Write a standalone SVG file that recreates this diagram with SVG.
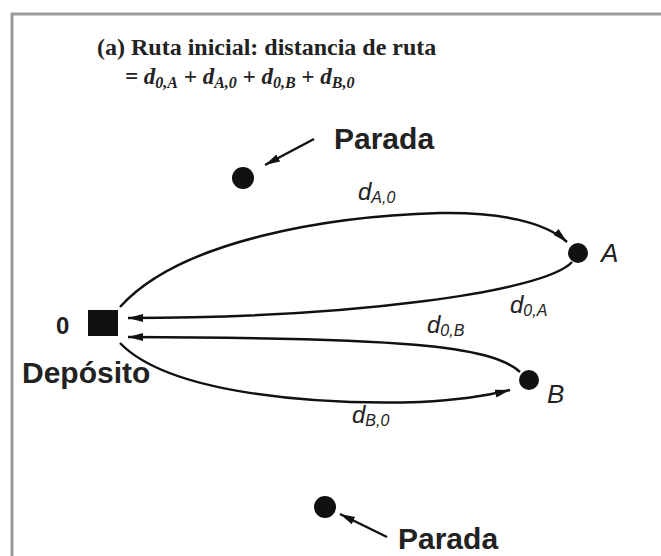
<svg xmlns="http://www.w3.org/2000/svg" width="661" height="556" viewBox="0 0 661 556">
<style>
.title{font-family:"Liberation Serif",serif;font-weight:bold;font-size:24px;fill:#222}
.formula{font-family:"Liberation Serif",serif;font-weight:bold;font-style:italic;font-size:23px;fill:#222}
.lbl{font-family:"Liberation Sans",Arial,sans-serif;font-weight:bold;font-size:30px;fill:#222}
.it{font-family:"Liberation Sans",Arial,sans-serif;font-style:italic;font-size:26px;fill:#222}
.d{font-family:"Liberation Sans",Arial,sans-serif;font-style:italic;font-size:24px;fill:#222}
.sub{font-size:16px}
.edge{fill:none;stroke:#111;stroke-width:2.5}
.dot{fill:#111}
</style>
<defs>
<marker id="arr" markerWidth="16" markerHeight="10" refX="15" refY="5" orient="auto" markerUnits="userSpaceOnUse">
<path d="M0,1 L15,5 L0,9 z" fill="#111"/>
</marker>
</defs>
<rect width="661" height="556" fill="#fff"/>
<path d="M12,556 L12,14 L661,14" fill="none" stroke="#9a9a9a" stroke-width="3"/>

<g id="title">
<text class="title" x="97" y="55">(a) Ruta inicial: distancia de ruta</text>
<text class="formula" x="125" y="84">= d<tspan class="sub" dy="4">0,A</tspan><tspan dy="-4"> + d</tspan><tspan class="sub" dy="4">A,0</tspan><tspan dy="-4"> + d</tspan><tspan class="sub" dy="4">0,B</tspan><tspan dy="-4"> + d</tspan><tspan class="sub" dy="4">B,0</tspan></text>
</g>

<g id="connectors">
<path class="edge" d="M120,307 C180,240 330,216 440,213 C500,212 545,222 567,242" marker-end="url(#arr)"/>
<path class="edge" d="M572,262 C545,292 350,318 128,318" marker-end="url(#arr)"/>
<path class="edge" d="M520,372 C490,345 400,338 128,337" marker-end="url(#arr)"/>
<path class="edge" d="M120,343 C170,395 320,405 420,402 C460,400 490,395 510,390" marker-end="url(#arr)"/>
<path class="edge" d="M314,139 L265,165" marker-end="url(#arr)"/>
<path class="edge" d="M387,537 L340,514" marker-end="url(#arr)"/>
</g>

<g id="depot">
<rect x="88" y="310" width="30" height="26" fill="#111"/>
<text class="lbl" x="56" y="334" style="font-size:24px">0</text>
<text class="lbl" x="22" y="383">Depósito</text>
</g>

<g id="nodeA">
<circle class="dot" cx="578" cy="253" r="10"/>
<text class="it" x="601" y="262">A</text>
</g>

<g id="nodeB">
<circle class="dot" cx="529" cy="380" r="10"/>
<text class="it" x="547" y="403">B</text>
</g>

<g id="stop1">
<circle class="dot" cx="243" cy="178" r="11"/>
<text class="lbl" x="334" y="149">Parada</text>
</g>

<g id="stop2">
<circle class="dot" cx="325" cy="507" r="11"/>
<text class="lbl" x="398" y="549">Parada</text>
</g>

<g id="labels">
<text class="d" x="358" y="200">d<tspan class="sub" dy="3">A,0</tspan></text>
<text class="d" x="510" y="313">d<tspan class="sub" dy="3">0,A</tspan></text>
<text class="d" x="427" y="333">d<tspan class="sub" dy="3">0,B</tspan></text>
<text class="d" x="352" y="423">d<tspan class="sub" dy="3">B,0</tspan></text>
</g>
</svg>
